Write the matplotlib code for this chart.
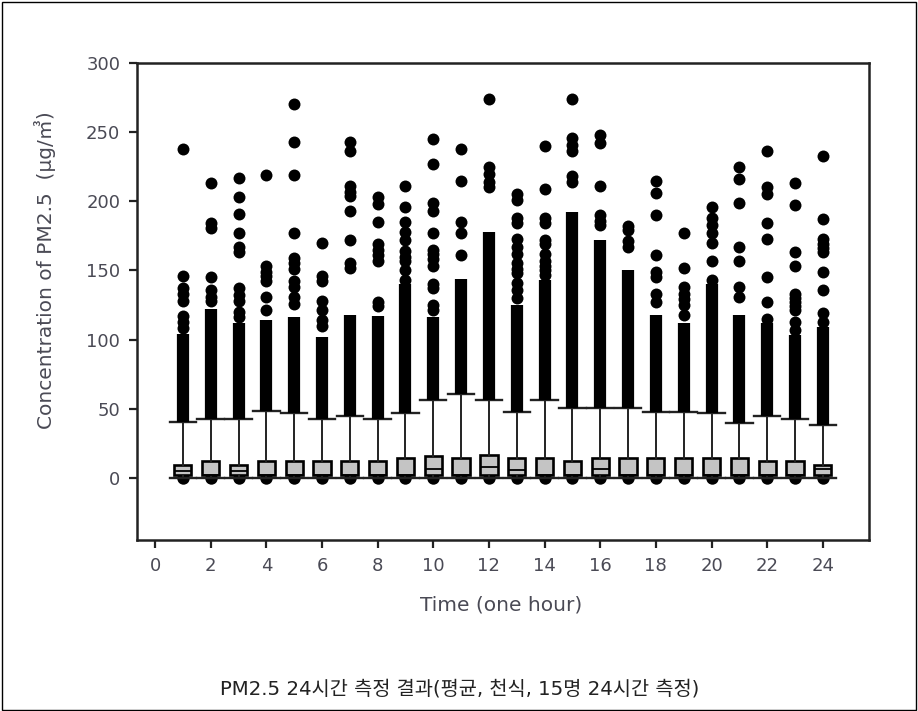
import numpy as np
import matplotlib
matplotlib.use('Agg')
import matplotlib.pyplot as plt
from matplotlib.patches import Rectangle

plt.rcParams['font.family'] = ['DejaVu Sans', 'Noto Sans CJK KR']

# hourly PM2.5 box statistics
hours = list(range(1, 25))
q1 = [2, 2, 2, 2, 2, 2, 2, 2, 2, 2, 2, 2, 2, 2, 2, 2, 2, 2, 2, 2, 2, 2, 2, 2]
med = [5, 2, 5, 2, 2, 2, 2, 2, 2, 6.5, 2, 7.9, 5.8, 2, 2, 6.5, 2, 2, 2, 2, 2, 2, 2, 6]
q3 = [9.4, 12.3, 9.4, 12.3, 12.3, 12.3, 12.3, 12.3, 14.4, 15.9, 14.4, 16.6,
      14.4, 14, 12.3, 14.4, 14, 14, 14, 14, 14, 11.8, 11.8, 9.4]
whislo = [0] * 24
whishi = [40.4, 42.6, 42.6, 48.6, 46.7, 42.6, 45, 42.6, 46.7, 56.3, 60.6, 56.3,
          47.9, 56.3, 50.3, 50.3, 50.3, 47.9, 47.9, 46.7, 39.9, 44.7, 42.3, 38.2]

# top of the solid run of overlapping outliers above each whisker
dense_top = [104, 122, 112, 114, 116, 102, 118, 117, 140, 116, 144, 178,
             125, 143, 192, 172, 150, 118, 112, 140, 118, 112, 103, 109]

# separate outlier points above the solid run
outliers = [
    [108, 113, 117, 128, 133, 137, 146, 238],
    [128, 131, 136, 145, 181, 184, 213],
    [116, 120, 128, 132, 137, 163, 167, 177, 191, 203, 217],
    [121, 131, 142, 146, 149, 153, 219],
    [126, 131, 138, 142, 151, 155, 159, 177, 219, 243, 270],
    [110, 114, 121, 128, 142, 146, 170],
    [152, 155, 172, 193, 204, 207, 211, 236, 243],
    [124, 127, 157, 161, 165, 169, 185, 198, 203],
    [143, 150, 157, 160, 164, 172, 178, 185, 196, 211],
    [121, 125, 137, 140, 153, 158, 162, 165, 177, 193, 199, 227, 245],
    [161, 177, 185, 215, 238],
    [210, 214, 220, 225, 274],
    [130, 136, 141, 148, 151, 155, 162, 167, 173, 184, 188, 201, 205],
    [147, 150, 153, 157, 162, 169, 172, 184, 188, 209, 240],
    [214, 218, 236, 241, 246, 274],
    [183, 186, 190, 211, 242, 248],
    [167, 171, 179, 182],
    [127, 133, 145, 149, 161, 190, 206, 215],
    [118, 125, 129, 133, 138, 152, 177],
    [143, 157, 170, 177, 183, 188, 196],
    [131, 138, 157, 167, 199, 216, 225],
    [115, 127, 145, 173, 184, 205, 210, 236],
    [107, 113, 121, 124, 127, 130, 133, 153, 163, 197, 213],
    [113, 119, 136, 149, 163, 166, 169, 173, 187, 233],
]
low_outlier = [0] * 24

xticks = list(range(0, 25, 2))
yticks = list(range(0, 301, 50))

fig = plt.figure(figsize=(9.18, 7.11), dpi=100)
ax = fig.add_axes([0.1492, 0.2405, 0.7974, 0.6709])

stats = []
for i in range(len(hours)):
    stats.append({'med': med[i], 'q1': q1[i], 'q3': q3[i],
                  'whislo': whislo[i], 'whishi': whishi[i], 'fliers': []})

ax.scatter(hours, low_outlier, s=80, color='black', marker='o', zorder=2, linewidths=0)
ax.bxp(stats, positions=hours, widths=0.62, capwidths=0.95, patch_artist=True,
       showfliers=False, zorder=3, manage_ticks=False,
       boxprops=dict(facecolor='#c4c4c4', edgecolor='black', linewidth=1.9),
       medianprops=dict(color='black', linewidth=1.3),
       whiskerprops=dict(color='#222222', linewidth=1.4),
       capprops=dict(color='#222222', linewidth=1.7))

ax.vlines(hours, whishi, dense_top, colors='black', linewidth=8.8, zorder=4)

ox = []
oy = []
for h, vals in zip(hours, outliers):
    for v in vals:
        ox.append(h)
        oy.append(v)
ax.plot(ox, oy, 'o', color='black', ms=8.6, mew=0, zorder=4)

ax.set_xlim(-0.65, 25.66)
ax.set_ylim(-45, 300)
ax.set_xticks(xticks)
ax.set_yticks(yticks)
for s in ax.spines.values():
    s.set_linewidth(1.8)
    s.set_color('#222222')
ax.tick_params(direction='out', length=6, width=1.6, color='#222222',
               labelsize=13, labelcolor='#4a4a55', pad=6)

fig.text(0.5458, 0.149, 'Time (one hour)', ha='center', va='center',
         fontsize=14.5, color='#4a4a55')
fig.text(0.049, 0.620, 'Concentration of PM2.5  (\u03bcg/\u33a5)', ha='center', va='center',
         rotation=90, fontsize=14.5, color='#4a4a55')
fig.text(0.501, 0.031, 'PM2.5 24시간 측정 결과(평균, 천식, 15명 24시간 측정)',
         ha='center', va='center', fontsize=14.2, color='#222222')

fig.patches.append(Rectangle((0.002, 0.002), 0.996, 0.995, transform=fig.transFigure,
                             fill=False, edgecolor='black', linewidth=1.0))

fig.savefig('out.png', dpi=100)
